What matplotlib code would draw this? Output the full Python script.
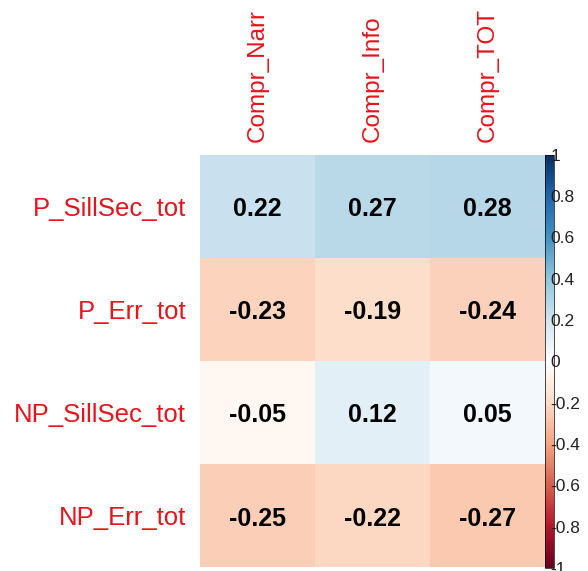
import numpy as np
import matplotlib
matplotlib.use("Agg")
import matplotlib.pyplot as plt
from matplotlib.colors import LinearSegmentedColormap

plt.rcParams['font.family'] = ['Liberation Sans', 'DejaVu Sans']

rows = ['P_SillSec_tot', 'P_Err_tot', 'NP_SillSec_tot', 'NP_Err_tot']
cols = ['Compr_Narr', 'Compr_Info', 'Compr_TOT']
corr = np.array([
    [0.22, 0.27, 0.28],
    [-0.23, -0.19, -0.24],
    [-0.05, 0.12, 0.05],
    [-0.25, -0.22, -0.27],
])
cb_ticks = [-1, -0.8, -0.6, -0.4, -0.2, 0, 0.2, 0.4, 0.6, 0.8, 1]
cb_labels = ['-1', '-0.8', '-0.6', '-0.4', '-0.2', '0',
             '0.2', '0.4', '0.6', '0.8', '1']

# corrplot's default RdBu palette
col2 = ["#67001F", "#B2182B", "#D6604D", "#F4A582", "#FDDBC7", "#FFFFFF",
        "#D1E5F0", "#92C5DE", "#4393C3", "#2166AC", "#053061"]
cmap = LinearSegmentedColormap.from_list('corr', col2, N=200)

fig = plt.figure(figsize=(5.88, 5.71), dpi=100)
ax = fig.add_axes([0.340, 0.007, 0.587, 0.722])
mesh = ax.pcolormesh(np.arange(len(cols) + 1), np.arange(len(rows) + 1), corr,
                     cmap=cmap, vmin=-1, vmax=1)
ax.set_xlim(0, len(cols))
ax.set_ylim(len(rows), 0)

for i in range(len(rows)):
    for j in range(len(cols)):
        ax.text(j + 0.5, i + 0.53, f'{corr[i, j]:.2f}', ha='center', va='center',
                fontsize=18, fontweight='bold', color='black')

ax.xaxis.tick_top()
ax.set_xticks(np.arange(len(cols)) + 0.5)
ax.set_xticklabels(cols, rotation=90, color='#e8131b', fontsize=17.5)
ax.set_yticks(np.arange(len(rows)) + 0.5)
ax.set_yticklabels(rows, color='#e8131b', fontsize=18.5)
ax.tick_params(axis='x', length=0, pad=9)
ax.tick_params(axis='y', length=0, pad=10)
for s in ax.spines.values():
    s.set_visible(False)

cax = fig.add_axes([0.927, 0.005, 0.016, 0.724])
cb = fig.colorbar(mesh, cax=cax, ticks=cb_ticks)
cb.ax.set_yticklabels(cb_labels)
cb.ax.tick_params(labelsize=12.5, length=0, pad=-3, colors='#222222')
cb.outline.set_linewidth(0.5)

fig.savefig('out.png', dpi=100)
